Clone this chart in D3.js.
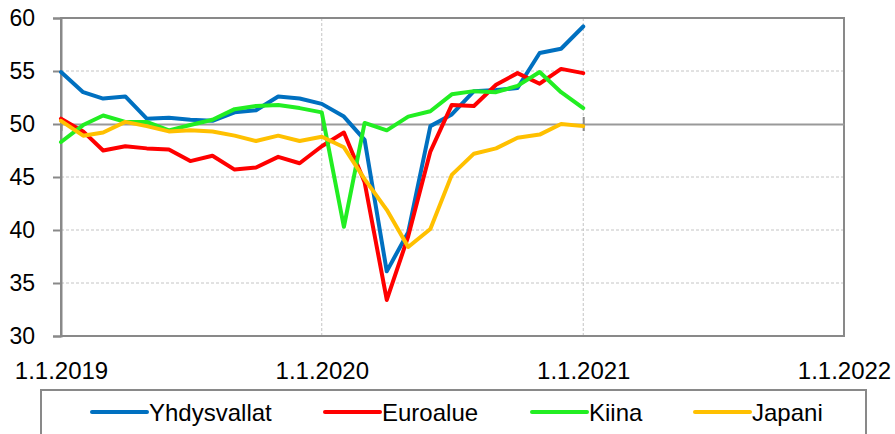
<!DOCTYPE html>
<html>
<head>
<meta charset="utf-8">
<script src="https://cdn.jsdelivr.net/npm/d3@7"></script>
<style>
  body { margin: 0; background: #fff; }
  svg { display: block; }
  text { font-family: "Liberation Sans", Arial, sans-serif; fill: #000; }
</style>
</head>
<body>
<div id="chart"></div>
<script>
// monthly data, 1.1.2019 - 1.1.2021
var months = d3.range(25).map(function (i) { return new Date(2019, i, 1); });

var yhdysvallat = [54.9, 53.0, 52.4, 52.6, 50.5, 50.6, 50.4, 50.3, 51.1, 51.3, 52.6, 52.4,
                   51.9, 50.7, 48.5, 36.1, 39.8, 49.8, 50.9, 53.1, 53.2, 53.4, 56.7, 57.1, 59.2];
var euroalue    = [50.5, 49.3, 47.5, 47.9, 47.7, 47.6, 46.5, 47.0, 45.7, 45.9, 46.9, 46.3,
                   47.9, 49.2, 44.5, 33.4, 39.4, 47.4, 51.8, 51.7, 53.7, 54.8, 53.8, 55.2, 54.8];
var kiina       = [48.3, 49.9, 50.8, 50.2, 50.2, 49.4, 49.9, 50.4, 51.4, 51.7, 51.8, 51.5,
                   51.1, 40.3, 50.1, 49.4, 50.7, 51.2, 52.8, 53.1, 53.0, 53.6, 54.9, 53.0, 51.5];
var japani      = [50.3, 48.9, 49.2, 50.2, 49.8, 49.3, 49.4, 49.3, 48.9, 48.4, 48.9, 48.4,
                   48.8, 47.8, 44.8, 41.9, 38.4, 40.1, 45.2, 47.2, 47.7, 48.7, 49.0, 50.0, 49.8];

var seriesNames  = ["Yhdysvallat", "Euroalue", "Kiina", "Japani"];
var seriesValues = [yhdysvallat, euroalue, kiina, japani];
var seriesColors = ["#0070C0", "#FF0000", "#22EE22", "#FFC000"];

var xTicks = [new Date(2019, 0, 1), new Date(2020, 0, 1), new Date(2021, 0, 1), new Date(2022, 0, 1)];
var yTicks = [30, 35, 40, 45, 50, 55, 60];

var width = 895, height = 434;
var plotLeft = 61, plotRight = 844, plotTop = 18, plotBottom = 336;
var axisGray = "#898989";

var svg = d3.select("#chart")
    .append("svg")
    .attr("width", width)
    .attr("height", height);

var x = d3.scaleTime()
    .domain([xTicks[0], xTicks[3]])
    .range([plotLeft, plotRight]);

var y = d3.scaleLinear()
    .domain([30, 60])
    .range([plotBottom, plotTop]);

// gridlines
svg.append("g")
    .selectAll("line")
    .data([35, 40, 45, 55])
    .enter()
    .append("line")
    .attr("x1", plotLeft).attr("x2", plotRight)
    .attr("y1", function (d) { return y(d); })
    .attr("y2", function (d) { return y(d); })
    .style("stroke", "#c4c4c4")
    .style("stroke-dasharray", "3,2");

svg.append("g")
    .selectAll("line")
    .data(xTicks.slice(1, 3))
    .enter()
    .append("line")
    .attr("x1", function (d) { return x(d); })
    .attr("x2", function (d) { return x(d); })
    .attr("y1", plotTop).attr("y2", plotBottom)
    .style("stroke", "#c4c4c4")
    .style("stroke-dasharray", "3,2");

// plot frame
svg.append("rect")
    .attr("x", plotLeft).attr("y", plotTop)
    .attr("width", plotRight - plotLeft).attr("height", plotBottom - plotTop)
    .style("fill", "none")
    .style("stroke", axisGray)
    .style("stroke-width", 2);

// y axis
var yAxis = svg.append("g")
    .attr("transform", "translate(" + plotLeft + ",0)")
    .call(d3.axisLeft(y).tickValues(yTicks).tickSize(8).tickPadding(18));
yAxis.select(".domain").style("stroke", axisGray).style("stroke-width", 2);
yAxis.selectAll(".tick line").style("stroke", axisGray).style("stroke-width", 2);
yAxis.selectAll("text").style("font-size", "23px");

// x axis line crossing at 50
var xAxis = svg.append("g")
    .attr("transform", "translate(0," + y(50) + ")")
    .call(d3.axisBottom(x).tickValues(xTicks.slice(0, 3)).tickSize(7).tickSizeOuter(0).tickFormat(""));
xAxis.select(".domain").style("stroke", "#999").style("stroke-width", 2);
xAxis.selectAll(".tick line").attr("y1", -7).style("stroke", axisGray).style("stroke-width", 2);

// x labels at the bottom
var xLabels = svg.append("g")
    .attr("transform", "translate(0," + plotBottom + ")")
    .call(d3.axisBottom(x).tickValues(xTicks).tickSize(0).tickPadding(26)
        .tickFormat(d3.timeFormat("%-d.%-m.%Y")));
xLabels.select(".domain").remove();
xLabels.selectAll("text").style("font-size", "24px");

// lines
var line = d3.line()
    .x(function (d, i) { return x(months[i]); })
    .y(function (d) { return y(d); });

svg.append("g")
    .selectAll("path")
    .data(seriesValues)
    .enter()
    .append("path")
    .attr("d", line)
    .style("fill", "none")
    .style("stroke", function (d, i) { return seriesColors[i]; })
    .style("stroke-width", 4)
    .style("stroke-linejoin", "round")
    .style("stroke-linecap", "round");

// legend
svg.append("rect")
    .attr("x", 41).attr("y", 390)
    .attr("width", 825).attr("height", 80)
    .style("fill", "#fff")
    .style("stroke", axisGray)
    .style("stroke-width", 2);

var legendX = [92, 325, 532, 695];
var legend = svg.append("g")
    .selectAll("g")
    .data(seriesNames)
    .enter()
    .append("g")
    .attr("transform", function (d, i) { return "translate(" + legendX[i] + ",412)"; });

legend.append("line")
    .attr("x1", 0).attr("x2", 55)
    .style("stroke", function (d, i) { return seriesColors[i]; })
    .style("stroke-width", 4)
    .style("stroke-linecap", "round");

legend.append("text")
    .attr("x", 57)
    .attr("dy", "0.36em")
    .style("font-size", "24px")
    .text(function (d) { return d; });
</script>
</body>
</html>
